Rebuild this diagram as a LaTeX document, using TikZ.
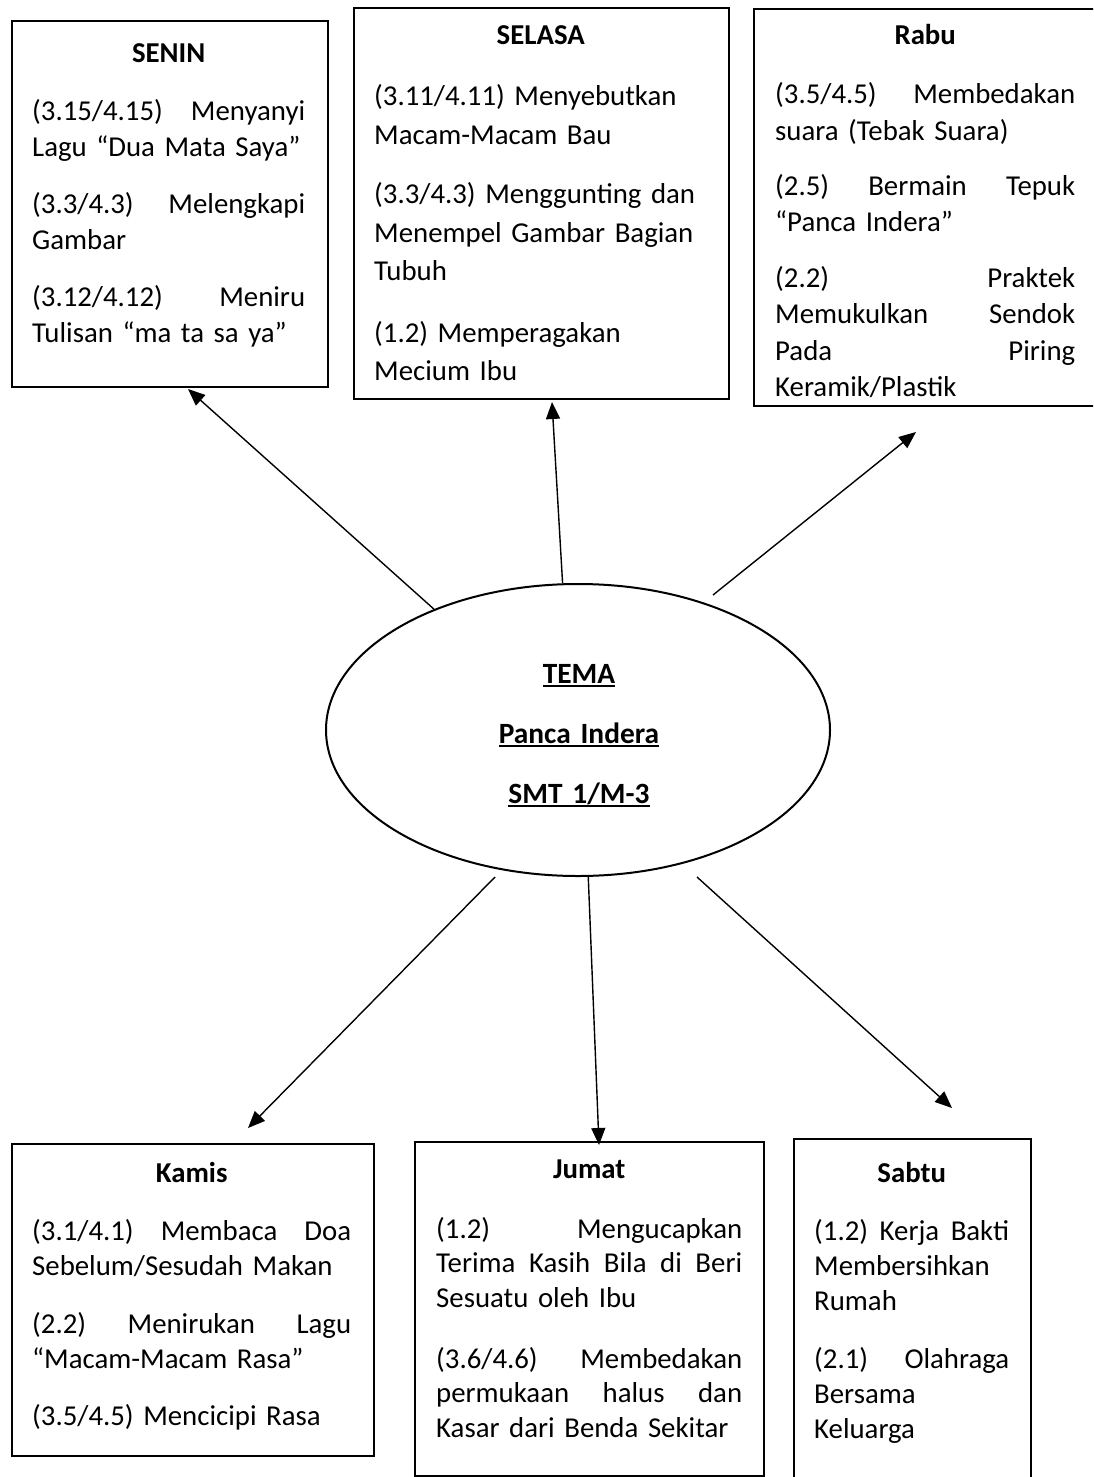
\documentclass[tikz,border=0pt]{standalone}
\usepackage{fontspec}
\setmainfont{Carlito}
\usetikzlibrary{shapes.geometric,arrows.meta}

% underline at a fixed distance below the baseline
\newsavebox\undlbox
\newcommand\undl[1]{\leavevmode\sbox\undlbox{#1}\rlap{\rule[-4pt]{\wd\undlbox}{1.8pt}}\usebox\undlbox}
% centred bold day title spanning the text width
\newcommand\daytitle[1]{\makebox[\linewidth]{\bfseries #1}}

\tikzset{
  frame/.style={draw, line width=2.4pt, inner sep=0pt, anchor=north west},
  daytext/.style n args={2}{font=\fontsize{28.8pt}{#2}\selectfont,
    text width=#1, inner sep=0pt, anchor=base west},
  link/.style={line width=1.4pt, -{Triangle[length=17pt,width=14pt]}},
}

\begin{document}
\begin{tikzpicture}[x=1pt, y=-1pt]
\useasboundingbox (0,0) rectangle (1093,1477);
\clip (0,0) rectangle (1093,1477);
\fill[white] (0,0) rectangle (1093,1477);

% ---- day boxes ----
\node[frame, minimum width=316pt, minimum height=366pt] (senin) at (11,20) {};
\node[daytext={273pt}{35.5pt}] (seninText) at (32,63) {%
  \daytitle{SENIN}\\[22.5pt]
  (3.15/4.15)\hfill Menyanyi\\
  Lagu “Dua Mata Saya”\\[22pt]
  (3.3/4.3)\hfill Melengkapi\\
  Gambar\\[22pt]
  (3.12/4.12)\hfill Meniru\\
  Tulisan “ma ta sa ya”};

\node[frame, minimum width=375pt, minimum height=391pt] (selasa) at (353,7) {};
\node[daytext={333pt}{38.5pt}] (selasaText) at (374,45) {%
  \daytitle{SELASA}\\[22.5pt]
  (3.11/4.11) Menyebutkan\\
  Macam-Macam Bau\\[21pt]
  (3.3/4.3) Menggunting dan\\
  Menempel Gambar Bagian\\
  Tubuh\\[23pt]
  (1.2) Memperagakan\\
  Mecium Ibu};

\node[frame, minimum width=360pt, minimum height=397pt] (rabu) at (753,8) {};
\node[daytext={300pt}{36.5pt}] (rabuText) at (775,45) {%
  \daytitle{Rabu}\\[22.5pt]
  (3.5/4.5)\hfill Membedakan\\
  suara (Tebak Suara)\\[18.5pt]
  (2.5)\hfill Bermain\hfill Tepuk\\
  “Panca Indera”\\[19pt]
  (2.2)\hfill Praktek\\
  Memukulkan\hfill Sendok\\
  Pada\hfill Piring\\
  Keramik/Plastik};

\node[frame, minimum width=362pt, minimum height=312pt] (kamis) at (11,1143) {};
\node[daytext={319pt}{35pt}] (kamisText) at (32,1182) {%
  \daytitle{Kamis}\\[23pt]
  (3.1/4.1)\hfill Membaca\hfill Doa\\
  Sebelum/Sesudah Makan\\[23pt]
  (2.2)\hfill Menirukan\hfill Lagu\\
  “Macam-Macam Rasa”\\[22pt]
  (3.5/4.5) Mencicipi Rasa};

\node[frame, minimum width=349pt, minimum height=334pt] (jumat) at (414,1141) {};
\node[daytext={306pt}{34.5pt}] (jumatText) at (436,1178) {%
  \daytitle{Jumat}\\[25.5pt]
  (1.2)\hfill Mengucapkan\\
  Terima\hfill Kasih\hfill Bila\hfill di\hfill Beri\\
  Sesuatu oleh Ibu\\[26.5pt]
  (3.6/4.6)\hfill Membedakan\\
  permukaan\hfill halus\hfill dan\\
  Kasar dari Benda Sekitar};

\node[frame, minimum width=237pt, minimum height=360pt] (sabtu) at (793,1138) {};
\node[daytext={195pt}{35pt}] (sabtuText) at (814,1182) {%
  \daytitle{Sabtu}\\[23pt]
  (1.2)\hfill Kerja\hfill Bakti\\
  Membersihkan\\
  Rumah\\[23pt]
  (2.1)\hfill Olahraga\\
  Bersama\\
  Keluarga};

% ---- central theme ----
\node[draw, ellipse, line width=2pt, inner sep=0pt,
      minimum width=504pt, minimum height=292pt] (tema) at (578,730) {};
\node[font=\fontsize{29.4pt}{60pt}\selectfont\bfseries, text width=300pt,
      inner sep=0pt, anchor=base] (temaText) at (579,683) {%
  \centering
  \undl{TEMA}\\
  \undl{Panca Indera}\\
  \undl{SMT 1/M-3}\par};

% ---- connectors ----
\coordinate (seninTip)  at (188,389);
\coordinate (selasaTip) at (552,402);
\coordinate (rabuFrom)  at (713,595);
\coordinate (rabuTip)   at (916,432);
\coordinate (kamisFrom) at (495,877);
\coordinate (kamisTip)  at (248,1128);
\coordinate (jumatTip)  at (599,1145);
\coordinate (sabtuFrom) at (697,877);
\coordinate (sabtuTip)  at (952,1108);

\draw[link] (tema.140.3) -- (seninTip);
\draw[link] (tema.96.3) -- (selasaTip);
\draw[link] (rabuFrom) -- (rabuTip);
\draw[link] (kamisFrom) -- (kamisTip);
\draw[link] (tema.-86) -- (jumatTip);
\draw[link] (sabtuFrom) -- (sabtuTip);
\end{tikzpicture}
\end{document}
